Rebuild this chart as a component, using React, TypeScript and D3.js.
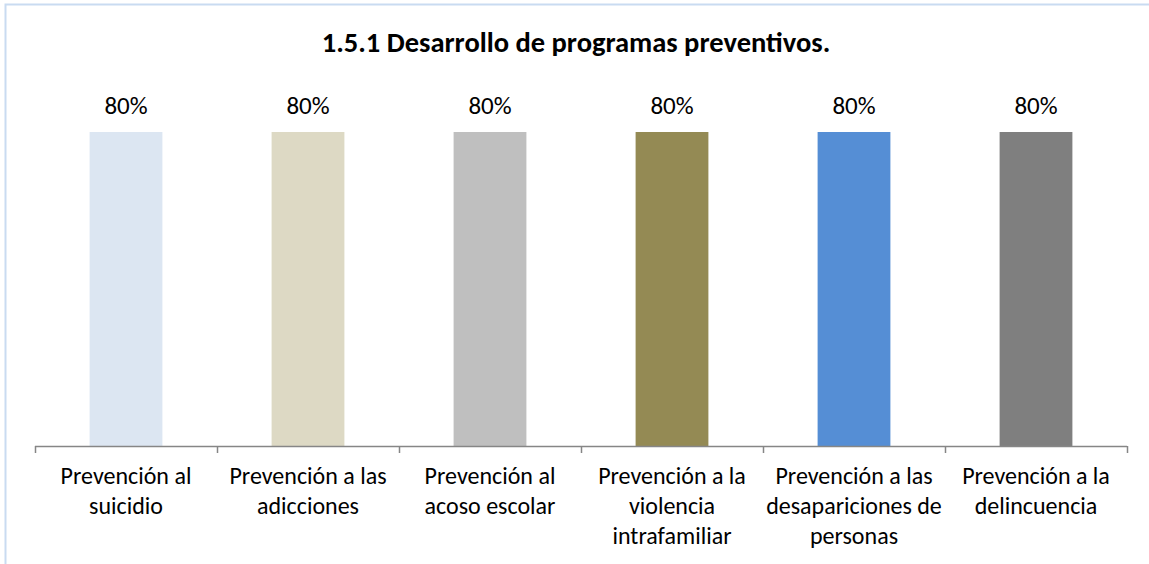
import React, { useEffect, useRef } from 'react';
import * as d3 from 'd3';

// chart data
const title = '1.5.1 Desarrollo de programas preventivos.';
const categories = [
  ['Prevención al', 'suicidio'],
  ['Prevención a las', 'adicciones'],
  ['Prevención al', 'acoso escolar'],
  ['Prevención a la', 'violencia', 'intrafamiliar'],
  ['Prevención a las', 'desapariciones de', 'personas'],
  ['Prevención a la', 'delincuencia'],
];
const values = [0.8, 0.8, 0.8, 0.8, 0.8, 0.8];
const colors = ['#DCE6F2', '#DDD9C4', '#BFBFBF', '#948A54', '#558ED5', '#7F7F7F'];

const WIDTH = 1149;
const HEIGHT = 564;
const FONT = 'Calibri, Carlito, Lato, sans-serif';

const App: React.FC = () => {
  const svgRef = useRef<SVGSVGElement>(null);

  useEffect(() => {
    document.body.style.margin = '0';
    if (!svgRef.current) return;
    const svg = d3.select(svgRef.current);
    svg.selectAll('*').remove();

    const axisY = 446;
    const x = d3.scaleBand<number>()
      .domain(d3.range(categories.length))
      .range([35, 1127])
      .padding(0);
    const y = d3.scaleLinear().domain([0, 1]).range([axisY, 53.5]);
    const barW = x.bandwidth() * 0.4;

    // outer chart border (only top and left visible)
    svg.append('rect')
      .attr('x', 5.5)
      .attr('y', 4.5)
      .attr('width', WIDTH + 20)
      .attr('height', HEIGHT + 20)
      .attr('fill', 'white')
      .attr('stroke', '#C9DBF1')
      .attr('stroke-width', 2);

    svg.append('text')
      .attr('x', 576)
      .attr('y', 52)
      .attr('text-anchor', 'middle')
      .style('font-family', FONT)
      .style('font-weight', 'bold')
      .style('font-size', '28.5px')
      .text(title);

    // bars
    svg.selectAll('rect.bar')
      .data(values)
      .join('rect')
      .attr('class', 'bar')
      .attr('x', (_, i) => (x(i) as number) + (x.bandwidth() - barW) / 2)
      .attr('y', (d) => y(d))
      .attr('width', barW)
      .attr('height', (d) => axisY - y(d))
      .attr('fill', (_, i) => colors[i]);

    // value labels
    svg.selectAll('text.val')
      .data(values)
      .join('text')
      .attr('class', 'val')
      .attr('x', (_, i) => (x(i) as number) + x.bandwidth() / 2)
      .attr('y', (d) => y(d) - 18)
      .attr('text-anchor', 'middle')
      .style('font-family', FONT)
      .style('font-size', '25px')
      .attr('fill', '#000')
      .text((d) => d3.format('.0%')(d));

    // axis line and ticks
    const axisColor = '#868686';
    svg.append('line')
      .attr('x1', 35)
      .attr('x2', 1127)
      .attr('y1', axisY + 0.5)
      .attr('y2', axisY + 0.5)
      .attr('stroke', axisColor)
      .attr('stroke-width', 1.5);
    const ticks = d3.range(categories.length + 1).map((i) =>
      i < categories.length ? (x(i) as number) : 1127);
    svg.selectAll('line.tick')
      .data(ticks)
      .join('line')
      .attr('class', 'tick')
      .attr('x1', (d) => Math.round(d) + 0.5)
      .attr('x2', (d) => Math.round(d) + 0.5)
      .attr('y1', axisY)
      .attr('y2', axisY + 7)
      .attr('stroke', axisColor)
      .attr('stroke-width', 1.5);

    // category labels
    const lab = svg.selectAll('text.cat')
      .data(categories)
      .join('text')
      .attr('class', 'cat')
      .attr('text-anchor', 'middle')
      .style('font-family', FONT)
      .style('font-size', '24px')
      .attr('fill', '#000');
    lab.selectAll('tspan')
      .data((d, i) => d.map((line) => ({ line, i })))
      .join('tspan')
      .attr('x', (d) => (x(d.i) as number) + x.bandwidth() / 2)
      .attr('y', (_, j) => 484 + j * 30)
      .text((d) => d.line);
  }, []);

  return <svg ref={svgRef} width={WIDTH} height={HEIGHT} style={{ display: 'block' }} />;
};

export default App;
